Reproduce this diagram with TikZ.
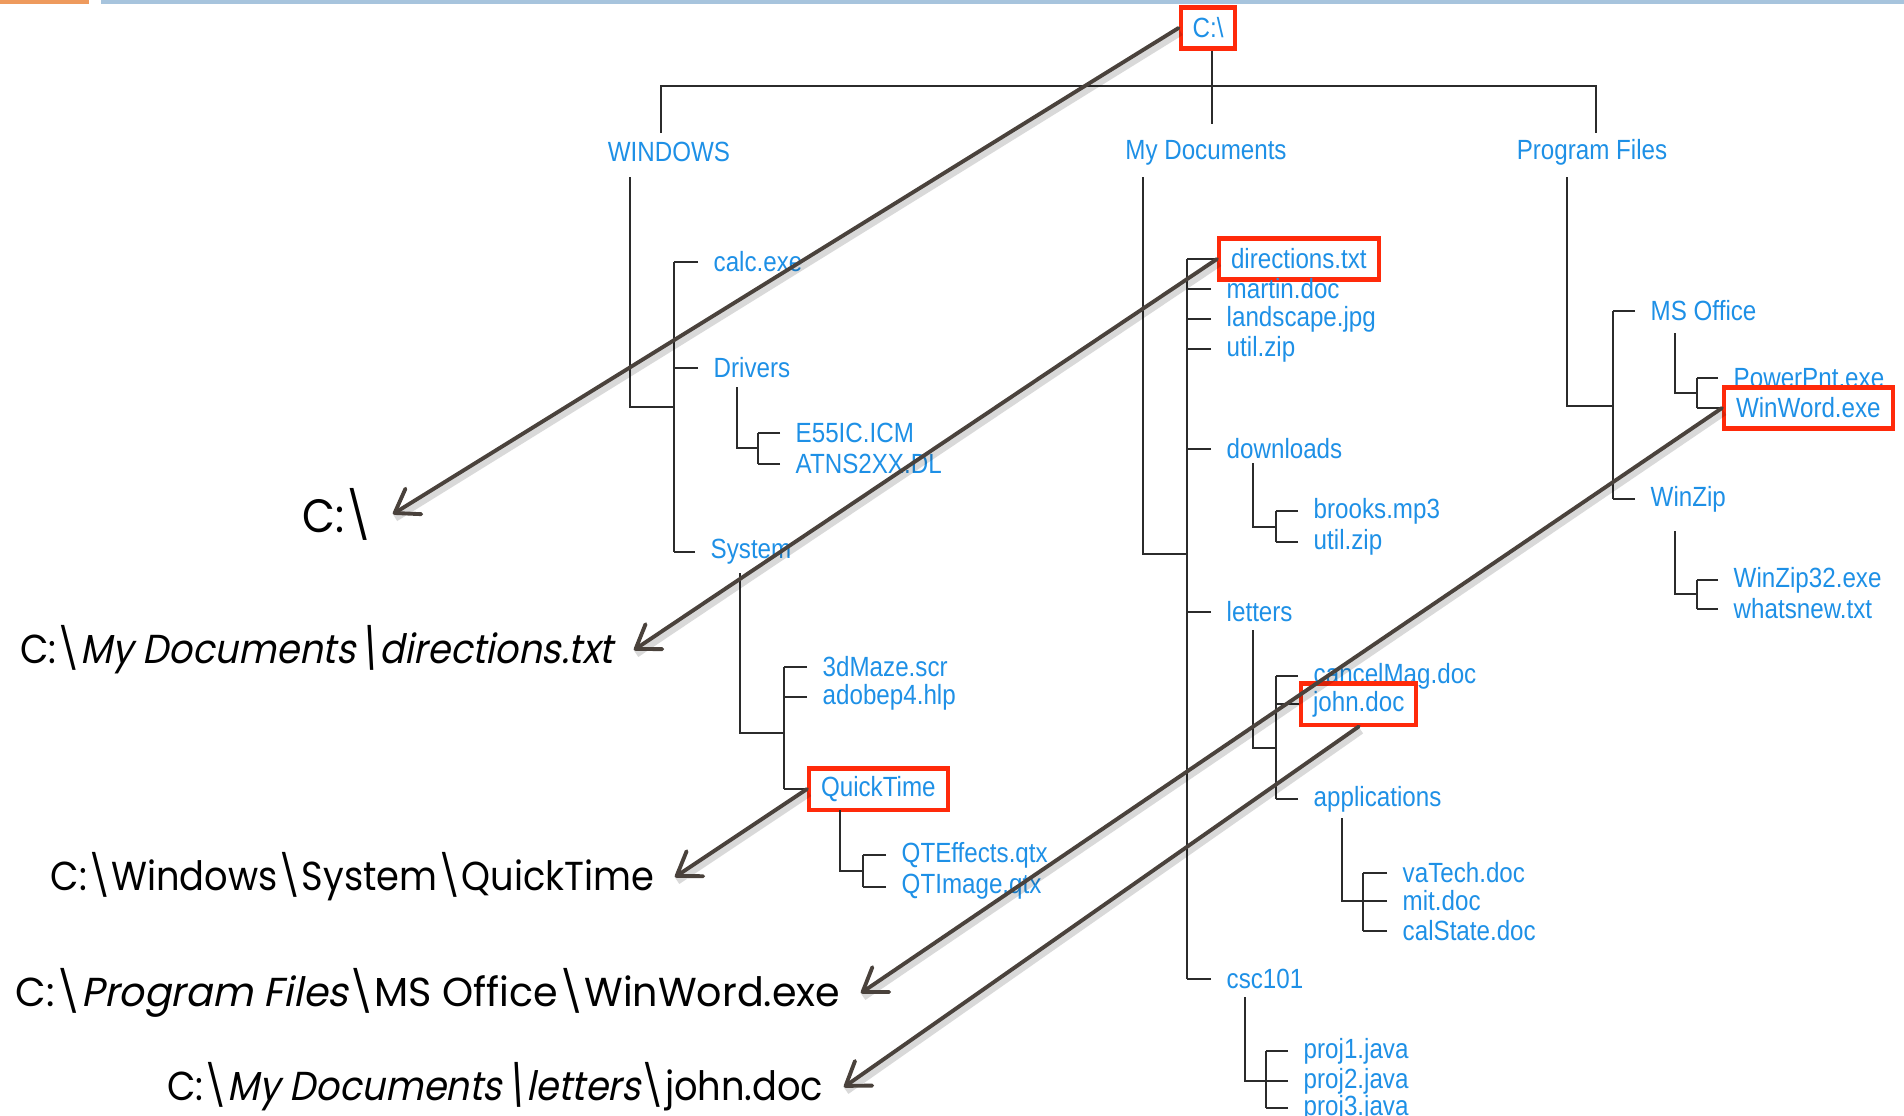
\documentclass[tikz,border=0pt]{standalone}
\usepackage{fontspec}
\setmainfont{Liberation Sans}
\newfontfamily\treefont[FakeStretch=0.87]{Liberation Sans}
\newfontfamily\pathfont[FakeStretch=0.91]{Poppins}
\newfontfamily\pathitfont[FakeStretch=0.91, FakeSlant=0.2]{Poppins}
\newfontfamily\pathwidefont[FakeStretch=0.98]{Poppins}
\newfontfamily\pathwideitfont[FakeStretch=0.98, FakeSlant=0.2]{Poppins}
\usetikzlibrary{arrows.meta}

\definecolor{fileblue}{HTML}{1E90E6}
\definecolor{boxred}{HTML}{FF2A0A}
\definecolor{treegray}{HTML}{2B2B2B}
\definecolor{arrowbrown}{HTML}{4A423C}
\definecolor{barorange}{HTML}{EE9A5D}
\definecolor{barblue}{HTML}{A7C4DD}

\newcommand{\bk}{\textbackslash}

\tikzset{
    tree/.style={draw=treegray, line width=0.45pt},
    file/.style={anchor=west, inner xsep=0.15cm, inner ysep=0pt, text=fileblue,
        font=\treefont\fontsize{7.9}{9}\selectfont},
    top/.style={file, anchor=center},
    picked/.style={file, draw=boxred, line width=1.15pt, inner xsep=0.12cm, minimum height=0.41cm},
    fullpath/.style={anchor=east, inner xsep=0.2cm, inner ysep=0pt,
        font=\pathfont\fontsize{11.5}{13}\selectfont},
    pointer/.style={draw=arrowbrown, line width=1.1pt, line cap=round,
        -{Straight Barb[length=2.2mm, width=3mm, line cap=round, line join=round]},
        preaction={draw=black, opacity=0.15, line width=2.6pt, -,
            transform canvas={xshift=0.5pt, yshift=-0.9pt}}}
}

\begin{document}
\begin{tikzpicture}[x=0.01cm, y=-0.01cm]
    \useasboundingbox (0,0) rectangle (1904,1115);
    \fill[barorange] (0,0) rectangle (89,3.5);
    \fill[barblue] (101,0) rectangle (1904,3.5);

    % root and first level
    \node[picked, anchor=center] (croot) at (1208,28) {C:\bk};
    \node[top] (win) at (669,152) {WINDOWS};
    \node[top] (mydoc) at (1206,153) {My Documents};
    \node[top] (prog) at (1592,152) {Program Files};
    \coordinate (wtop) at (661,133);
    \coordinate (mtop) at (1212,124);
    \coordinate (ptop) at (1596,133);
    \coordinate (bar) at (0,86);
    \draw[tree] (wtop) |- (bar -| ptop) -- (ptop);
    \draw[tree] (croot.south -| mtop) -- (mtop);

    % WINDOWS
    \node[file] (calc) at (698,262) {calc.exe};
    \node[file] (drv) at (698,368) {Drivers};
    \node[file] (sys) at (695,552) {System};
    \coordinate (wdrop) at (630,177);
    \coordinate (wjoin) at (674,407);
    \draw[tree] (wdrop) |- (wjoin);
    \draw[tree] (calc.west -| wjoin) -- (sys.west -| wjoin);
    \foreach \n in {calc,drv,sys} \draw[tree] (\n.west) -- (\n.west -| wjoin);

    % Drivers
    \node[file] (e55) at (780,433) {E55IC.ICM};
    \node[file] (atns) at (780,464) {ATNS2XX.DL};
    \coordinate (ddrop) at (737,387);
    \coordinate (djoin) at (758,448);
    \draw[tree] (ddrop) |- (djoin);
    \draw[tree] (e55.west -| djoin) -- (atns.west -| djoin);
    \foreach \n in {e55,atns} \draw[tree] (\n.west) -- (\n.west -| djoin);

    % System
    \node[file] (maze) at (807,667) {3dMaze.scr};
    \node[file] (adobe) at (807,697) {adobep4.hlp};
    \node[picked] (qt) at (807,789) {QuickTime};
    \coordinate (sdrop) at (740,573);
    \coordinate (sjoin) at (784,733);
    \draw[tree] (sdrop) |- (sjoin);
    \draw[tree] (maze.west -| sjoin) -- (qt.west -| sjoin);
    \foreach \n in {maze,adobe,qt} \draw[tree] (\n.west) -- (\n.west -| sjoin);

    % QuickTime
    \node[file] (qte) at (886,855) {QTEffects.qtx};
    \node[file] (qti) at (886,887) {QTImage.qtx};
    \coordinate (qdrop) at (840,810);
    \coordinate (qjoin) at (863,871);
    \draw[tree] (qdrop) |- (qjoin);
    \draw[tree] (qte.west -| qjoin) -- (qti.west -| qjoin);
    \foreach \n in {qte,qti} \draw[tree] (\n.west) -- (\n.west -| qjoin);

    % My Documents
    \node[picked] (dir) at (1217,259) {directions.txt};
    \node[file] (martin) at (1211,289) {martin.doc};
    \node[file] (land) at (1211,319) {landscape.jpg};
    \node[file] (zipa) at (1211,349) {util.zip};
    \node[file] (dl) at (1211,449) {downloads};
    \node[file] (lets) at (1211,612) {letters};
    \node[file] (csc) at (1211,979) {csc101};
    \coordinate (mdrop) at (1143,177);
    \coordinate (mjoin) at (1187,554);
    \draw[tree] (mdrop) |- (mjoin);
    \draw[tree] (dir.west -| mjoin) -- (csc.west -| mjoin);
    \foreach \n in {dir,martin,land,zipa,dl,lets,csc} \draw[tree] (\n.west) -- (\n.west -| mjoin);

    % downloads
    \node[file] (mp3) at (1298,511) {brooks.mp3};
    \node[file] (zipb) at (1298,542) {util.zip};
    \coordinate (dldrop) at (1253,463);
    \coordinate (dljoin) at (1276,527);
    \draw[tree] (dldrop) |- (dljoin);
    \draw[tree] (mp3.west -| dljoin) -- (zipb.west -| dljoin);
    \foreach \n in {mp3,zipb} \draw[tree] (\n.west) -- (\n.west -| dljoin);

    % letters
    \node[file] (cancel) at (1298,676) {cancelMag.doc};
    \node[picked] (john) at (1299,704) {john.doc};
    \node[file] (app) at (1298,799) {applications};
    \coordinate (ldrop) at (1253,630);
    \coordinate (ljoin) at (1276,748);
    \draw[tree] (ldrop) |- (ljoin);
    \draw[tree] (cancel.west -| ljoin) -- (app.west -| ljoin);
    \foreach \n in {cancel,john,app} \draw[tree] (\n.west) -- (\n.west -| ljoin);

    % applications
    \node[file] (va) at (1387,873) {vaTech.doc};
    \node[file] (mit) at (1387,901) {mit.doc};
    \node[file] (cal) at (1387,931) {calState.doc};
    \coordinate (adrop) at (1342,818);
    \coordinate (ajoin) at (1363,901);
    \draw[tree] (adrop) |- (ajoin);
    \draw[tree] (va.west -| ajoin) -- (cal.west -| ajoin);
    \foreach \n in {va,mit,cal} \draw[tree] (\n.west) -- (\n.west -| ajoin);

    % csc101
    \node[file] (pa) at (1288,1051) {proj1.java};
    \node[file] (pb) at (1288,1081) {proj2.java};
    \node[file] (pc) at (1288,1108) {proj3.java};
    \coordinate (cdrop) at (1245,997);
    \coordinate (cjoin) at (1266,1081);
    \draw[tree] (cdrop) |- (cjoin);
    \draw[tree] (pa.west -| cjoin) -- (pc.west -| cjoin);
    \foreach \n in {pa,pb,pc} \draw[tree] (\n.west) -- (\n.west -| cjoin);

    % Program Files
    \node[file] (mso) at (1635,311) {MS Office};
    \node[file] (wz) at (1635,499) {WinZip};
    \coordinate (pdrop) at (1567,177);
    \coordinate (pjoin) at (1613,406);
    \draw[tree] (pdrop) |- (pjoin);
    \draw[tree] (mso.west -| pjoin) -- (wz.west -| pjoin);
    \foreach \n in {mso,wz} \draw[tree] (\n.west) -- (\n.west -| pjoin);

    % MS Office
    \node[file] (ppt) at (1718,378) {PowerPnt.exe};
    \node[picked] (ww) at (1722,408) {WinWord.exe};
    \coordinate (odrop) at (1675,333);
    \coordinate (ojoin) at (1697,393);
    \draw[tree] (odrop) |- (ojoin);
    \draw[tree] (ppt.west -| ojoin) -- (ww.west -| ojoin);
    \foreach \n in {ppt,ww} \draw[tree] (\n.west) -- (\n.west -| ojoin);

    % WinZip
    \node[file] (wzexe) at (1718,580) {WinZip32.exe};
    \node[file] (news) at (1718,609) {whatsnew.txt};
    \coordinate (zdrop) at (1675,531);
    \coordinate (zjoin) at (1697,594);
    \draw[tree] (zdrop) |- (zjoin);
    \draw[tree] (wzexe.west -| zjoin) -- (news.west -| zjoin);
    \foreach \n in {wzexe,news} \draw[tree] (\n.west) -- (\n.west -| zjoin);

    % full path names
    \node[fullpath, font=\pathfont\fontsize{13.3}{15}\selectfont] (lroot) at (393,514) {C:\bk};
    \node[fullpath] (ldir) at (634,650) {C:\bk{\pathitfont My Documents\bk directions.txt}};
    \node[fullpath] (lqt) at (675,877) {C:\bk Windows\bk System\bk QuickTime};
    \node[fullpath, font=\pathwidefont\fontsize{11.5}{13}\selectfont] (lww) at (861,993)
        {C:\bk{\pathwideitfont Program Files}\bk MS Office\bk WinWord.exe};
    \node[fullpath] (ljohn) at (844,1087) {C:\bk{\pathitfont My Documents\bk letters}\bk john.doc};

    \draw[pointer] (croot.west) -- (lroot.east);
    \draw[pointer] (dir.west) -- (ldir.east);
    \draw[pointer] (qt.west) -- (lqt.east);
    \draw[pointer] (ww.west) -- (lww.east);
    \draw[pointer] (john.south) -- (ljohn.east);
\end{tikzpicture}
\end{document}
